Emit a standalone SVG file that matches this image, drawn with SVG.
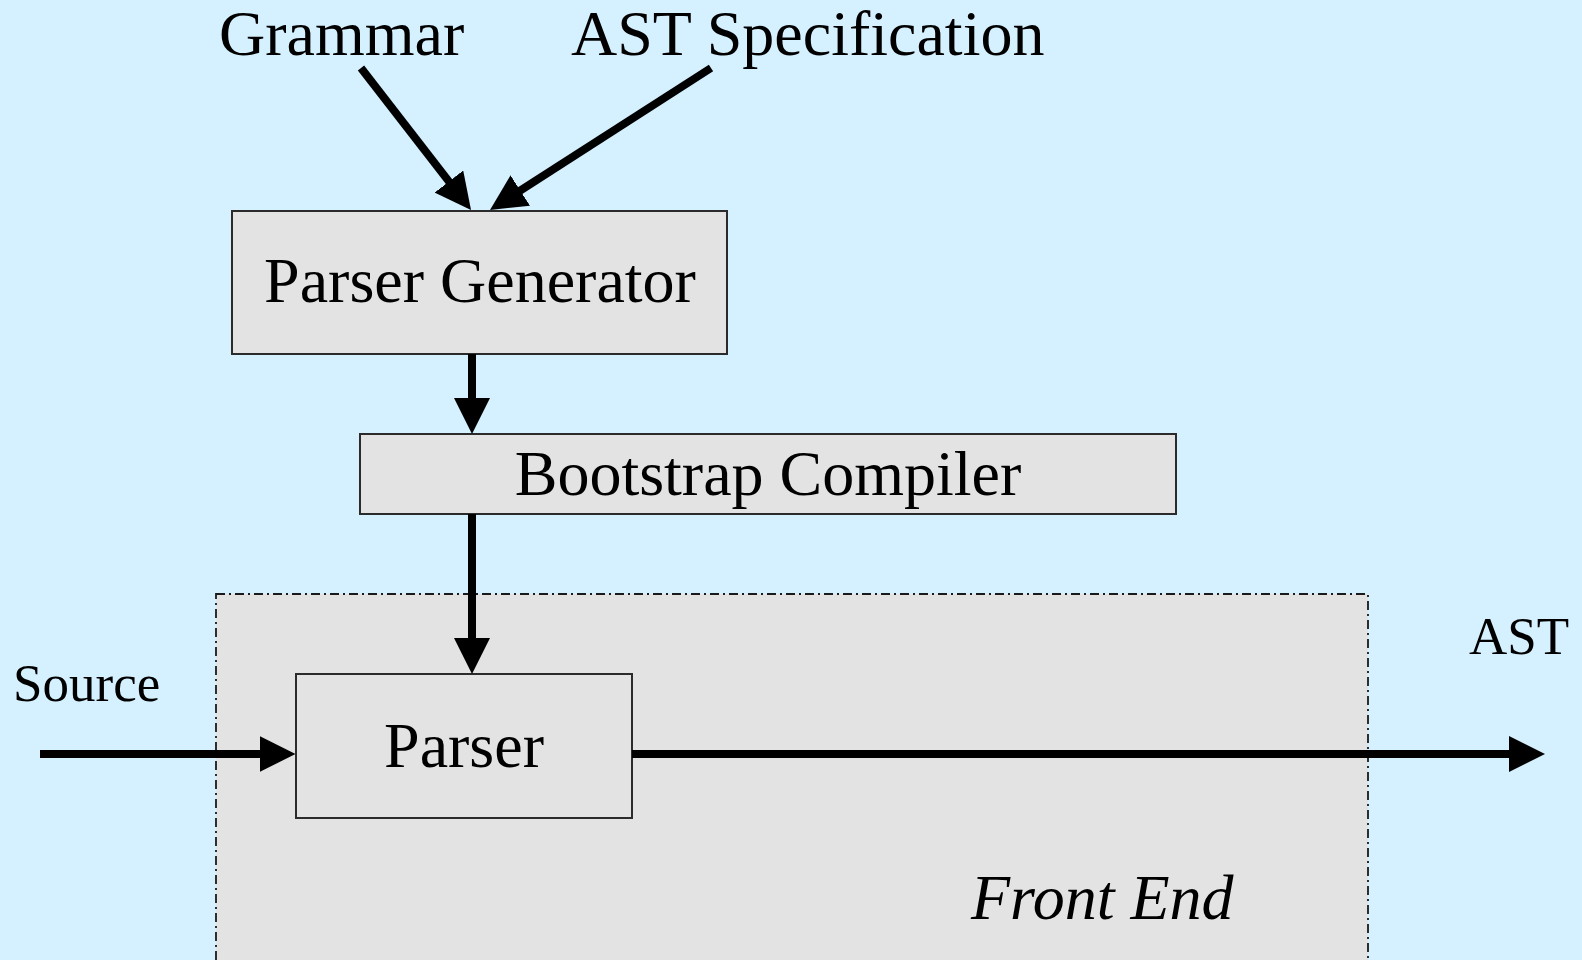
<svg xmlns="http://www.w3.org/2000/svg" width="1582" height="960" viewBox="0 0 1582 960">
  <style>
    .bg { fill: #D5F0FE; }
    .box { fill: #E3E3E3; stroke: #2b2b2b; stroke-width: 2; }
    .frame { fill: #E3E3E3; stroke: #1a1a1a; stroke-width: 1.8; stroke-dasharray: 9 4 2 4; }
    .lbl { font-family: "Liberation Serif", "Times New Roman", serif; fill: #000; }
    .big { font-size: 64px; }
    .small { font-size: 53px; }
    .it { font-style: italic; }
    .wire { stroke: #000; stroke-width: 8; fill: none; marker-end: url(#head); }
  </style>
  <defs>
    <marker id="head" markerUnits="userSpaceOnUse" markerWidth="36" markerHeight="36" refX="2" refY="18" orient="auto">
      <path d="M0,0 L36,18 L0,36 z" fill="#000"/>
    </marker>
  </defs>

  <rect class="bg" x="0" y="0" width="1582" height="960"/>

  <!-- front end region -->
  <g id="front-end">
    <rect class="frame" x="216" y="594" width="1152" height="380"/>
    <text class="lbl big it" x="971" y="919">Front End</text>
  </g>

  <!-- input / output labels -->
  <g id="grammar"><text class="lbl big" x="219" y="55">Grammar</text></g>
  <g id="ast-spec"><text class="lbl big" x="571" y="55">AST Specification</text></g>
  <g id="source"><text class="lbl small" x="13" y="701">Source</text></g>
  <g id="ast"><text class="lbl small" x="1469" y="654">AST</text></g>

  <!-- processing boxes -->
  <g id="parser-generator">
    <rect class="box" x="232" y="211" width="495" height="143"/>
    <text class="lbl big" x="480" y="302" text-anchor="middle">Parser Generator</text>
  </g>
  <g id="bootstrap-compiler">
    <rect class="box" x="360" y="434" width="816" height="80"/>
    <text class="lbl big" x="768" y="495" text-anchor="middle">Bootstrap Compiler</text>
  </g>
  <g id="parser">
    <rect class="box" x="296" y="674" width="336" height="144"/>
    <text class="lbl big" x="464" y="767" text-anchor="middle">Parser</text>
  </g>

  <!-- connectors -->
  <g id="connectors">
    <path class="wire" d="M361,68 L450.2,183.1"/>
    <path class="wire" d="M711,68 L518.6,191.6"/>
    <path class="wire" d="M472,354 L472,400"/>
    <path class="wire" d="M472,514 L472,640"/>
    <path class="wire" d="M40,754 L261.5,754"/>
    <path class="wire" d="M632,754 L1511,754"/>
  </g>
</svg>
